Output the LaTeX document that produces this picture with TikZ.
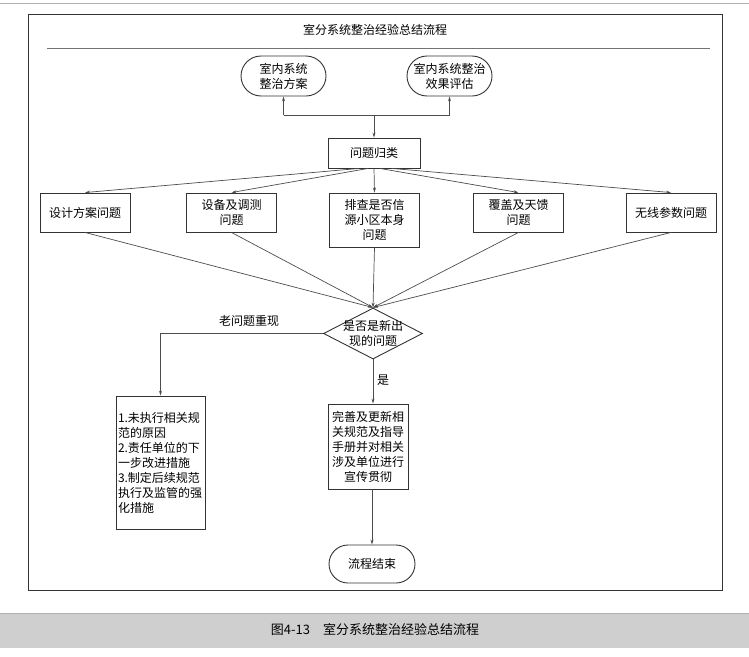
\documentclass[tikz,border=0pt]{standalone}
\usepackage{fontspec}
\newfontfamily\cjk{Noto Sans CJK SC}
\usetikzlibrary{
    arrows.meta,
    shapes.misc,
    shapes.geometric
}

\begin{document}
\begin{tikzpicture}[x=1pt,y=-1pt,line width=0.7pt,
  box/.style={draw=black!80,line width=0.9pt,align=center,inner sep=2pt,
    font=\cjk\fontsize{12}{15}\selectfont},
  term/.style={box,rounded rectangle,minimum width=89pt,minimum height=40pt},
  prob/.style={box,minimum width=90pt,minimum height=39pt},
  arr/.style={draw=black!70,-{Stealth[length=5pt,width=3pt]}},
  lbl/.style={font=\cjk\fontsize{12}{15}\selectfont}]
%\draw [help lines,step=50](0,0) grid (749,656);
\useasboundingbox (0,0) rectangle (749,656);
\draw [gray!60] (0,3) -- (749,3);
\draw [black!80,line width=1pt] (28,14) rectangle (722,590);
\node [lbl] (title) at (375,30) {室分系统整治经验总结流程};
\draw [black!55] (47,48) -- (710,48);
% start
\node [term] (sa) at (283.5,76) {室内系统\\整治方案};
\node [term] (sb) at (449.5,76) {室内系统整治\\效果评估};
\coordinate (j) at (374,115);
\coordinate (ja) at (283.5,115);
\coordinate (jb) at (449.5,115);
\node [box,minimum width=92pt,minimum height=30pt] (cls) at (374,153) {问题归类};
\draw [draw=black!70] (ja) -- (jb);
\draw [arr] (ja) -- (sa.south);
\draw [arr] (jb) -- (sb.south);
\draw [arr] (j) -- (cls.north);
% problem classes
\node [prob] (p1) at (85,212.5) {设计方案问题};
\node [prob] (p2) at (231.5,212.5) {设备及调测\\问题};
\node [prob,minimum height=54pt] (p3) at (374.5,220) {排查是否信\\源小区本身\\问题};
\node [prob] (p4) at (518.5,212.5) {覆盖及天馈\\问题};
\node [prob] (p5) at (671,212.5) {无线参数问题};
\draw [arr] ([xshift=-15pt]cls.south) -- (p1.north);
\draw [arr] ([xshift=-6pt]cls.south) -- (p2.north);
\draw [arr] (cls.south) -- (p3.north);
\draw [arr] ([xshift=6pt]cls.south) -- (p4.north);
\draw [arr] ([xshift=18pt]cls.south) -- (p5.north);
% decision
\node [draw=black!80,line width=0.9pt,diamond,inner sep=0pt,
  minimum width=99pt,minimum height=51pt,
  label={[lbl,align=center]center:是否是新出\\现的问题}] (q) at (373,333.5) {};
\foreach \p in {p1,p2,p3,p4,p5}
  \draw [arr] (\p.south) -- (q.north);
\node [box,align=left,text width=85pt,minimum height=133pt] (old) at (160.5,462.5)
  {1.未执行相关规\\范的原因\\2.责任单位的下\\一步改进措施\\3.制定后续规范\\执行及监管的强\\化措施};
\node [box,text width=76pt,minimum height=85pt] (fix) at (368,446.5)
  {完善及更新相\\关规范及指导\\手册并对相关\\涉及单位进行\\宣传贯彻};
\node [term,minimum width=90pt,minimum height=38pt] (stop) at (372,564) {流程结束};
\draw [arr] (q.west) -| (old.north);
\node [lbl] (oldl) at (249,321) {老问题重现};
\draw [arr] (q.south) -- (q.south |- fix.north);
\node [lbl] (yes) at (383,380) {是};
\draw [arr] (fix.south -| stop.north) -- (stop.north);
% caption band
\fill [gray!38] (0,613) rectangle (749,648);
\draw [gray!60] (0,613) -- (749,613);
\node [font=\cjk\fontsize{13}{15}\selectfont] (cap) at (375,630) {图4-13\quad 室分系统整治经验总结流程};
\end{tikzpicture}
\end{document}
